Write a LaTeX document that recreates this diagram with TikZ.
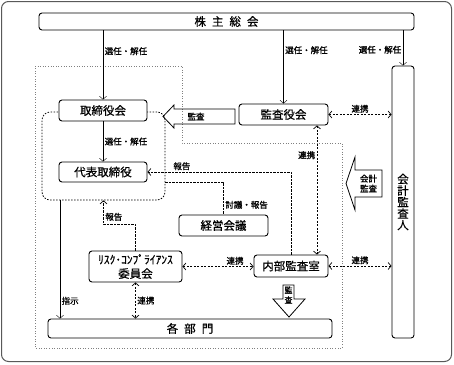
\documentclass[tikz,border=0pt]{standalone}
\usepackage{fontspec}
\setmainfont{Noto Sans CJK JP}
\newfontfamily\jpbold{Noto Sans CJK JP}[FakeBold=1.2]
\newfontfamily\jpmed{Noto Sans CJK JP}[FakeBold=0.6]
\usetikzlibrary{arrows.meta,positioning}
\tikzset{
	box/.style={draw, fill=white, rounded corners=3pt, line width=0.9pt, inner sep=0pt, align=center, font=\jpmed\fontsize{11.5}{14}\selectfont},
	lbl/.style={inner sep=1.5pt, font=\jpbold\fontsize{8.5}{10}\selectfont},
	link/.style={line width=0.7pt, dash pattern=on 2.2pt off 1.3pt},
	bigarrow/.style={line width=0.8pt, line join=miter}
}
\begin{document}
\begin{tikzpicture}[x=1pt, y=-1pt, line join=round, >={Straight Barb[length=3pt,width=7pt]}]
	\useasboundingbox (0,0) rectangle (454,364);
	\draw[gray!70!black, line width=1pt, rounded corners=7pt] (1.5,1.5) rectangle (451.5,361.5);
	% 範囲
	\draw[gray, dotted, line width=0.6pt] (35,66)--(182,66)--(182,143)--(342,143)--(342,348)--(35,348)--cycle;
	\node[draw, dash pattern=on 1.5pt off 1.5pt, rounded corners=8pt, line width=0.8pt, minimum width=123pt, minimum height=88pt] (grp) at (103.5,156) {};
	
	\node[box, minimum width=375pt, minimum height=17pt] (soukai) at (226.5,21.5) {株\hspace{6pt}主\hspace{6pt}総\hspace{6pt}会};
	\node[box, minimum width=88pt, minimum height=21pt] (torishimari) at (103,110.5) {取締役会};
	\node[box, minimum width=88pt, minimum height=20pt] (daihyo) at (103,172) {代表取締役};
	\node[box, minimum width=89pt, minimum height=21pt] (kansayaku) at (283.5,114.5) {監査役会};
	\node[box, minimum width=22pt, minimum height=272pt, font=\jpmed\fontsize{11.5}{11.5}\selectfont] (kaikei) at (403,202) {会\\計\\監\\査\\人};
	\node[box, minimum width=89pt, minimum height=21pt] (keiei) at (223.5,225.5) {経営会議};
	\node[box, minimum width=93pt, minimum height=31pt] (risk) at (135.5,266.5) {ﾘｽｸ･ｺﾝﾌﾟﾗｲｱﾝｽ\\委員会};
	\node[box, minimum width=74pt, minimum height=22pt] (naibu) at (291,266) {内部監査室};
	\node[box, minimum width=284pt, minimum height=19pt] (kakubu) at (190,328.5) {各\hspace{6pt}部\hspace{6pt}門};
	
	\draw[->] (soukai.south -| torishimari.north) -- node[lbl, right, pos=0.3]{選任・解任} (torishimari.north);
	\draw[->] (soukai.south -| kansayaku.north) -- node[lbl, right, pos=0.27]{選任・解任} (kansayaku.north);
	\draw[->] (soukai.south -| kaikei.north) -- node[lbl, left, pos=0.55]{選任・解任} (kaikei.north);
	\draw[->] (torishimari) -- node[lbl, right]{選任・解任} (daihyo);
	
	\draw[link, <->] (kansayaku.east) -- node[lbl, above]{連携} (kansayaku.east -| kaikei.west);
	\draw[link, <->] ([xshift=33.5pt]kansayaku.south) -- node[lbl, left, pos=0.23]{連携} ([xshift=33.5pt]kansayaku.south |- naibu.north);
	\draw[link, ->] (naibu.north) |- node[lbl, above, pos=0.88]{報告} (daihyo.east);
	\draw[link] ([yshift=-26pt]grp.east) -| node[lbl, right, pos=0.85]{討議・報告} (keiei.north);
	\draw[link, ->] (risk.north) -- ++(0,-26) -| node[lbl, right, pos=0.66]{報告} (grp.south);
	\draw[link, <->] (risk.east) -- node[lbl, above, pos=0.74]{連携} (risk.east -| naibu.west);
	\draw[link, <->] (naibu.east) -- node[lbl, above]{連携} (naibu.east -| kaikei.west);
	\draw[link, <->] (risk.south) -- node[lbl, right]{連携} (risk.south |- kakubu.north);
	\draw[->] ([xshift=-43.5pt]grp.south) -- node[lbl, right, pos=0.85]{指示} ([xshift=-43.5pt]grp.south |- kakubu.north);
	
	\draw[bigarrow] (163,116.5)--(174,105)--(174,109)--(235,109)--(235,124)--(174,124)--(174,128)--cycle;
	\node[lbl] (kansa1) at (196,116.5) {監査};
	\draw[bigarrow] (346,183.5)--(355,157)--(355,170)--(382,170)--(382,197)--(355,197)--(355,210)--cycle;
	\node[lbl, align=center] (kansa2) at (368.5,183.5) {会計\\監査};
	\draw[bigarrow] (283,285)--(294,285)--(294,299)--(305,299)--(289,317)--(273,299)--(283,299)--cycle;
	\node[lbl, align=center, font=\jpbold\fontsize{8}{10}\selectfont] (kansa3) at (288.5,295) {監\\査};
\end{tikzpicture}
\end{document}
